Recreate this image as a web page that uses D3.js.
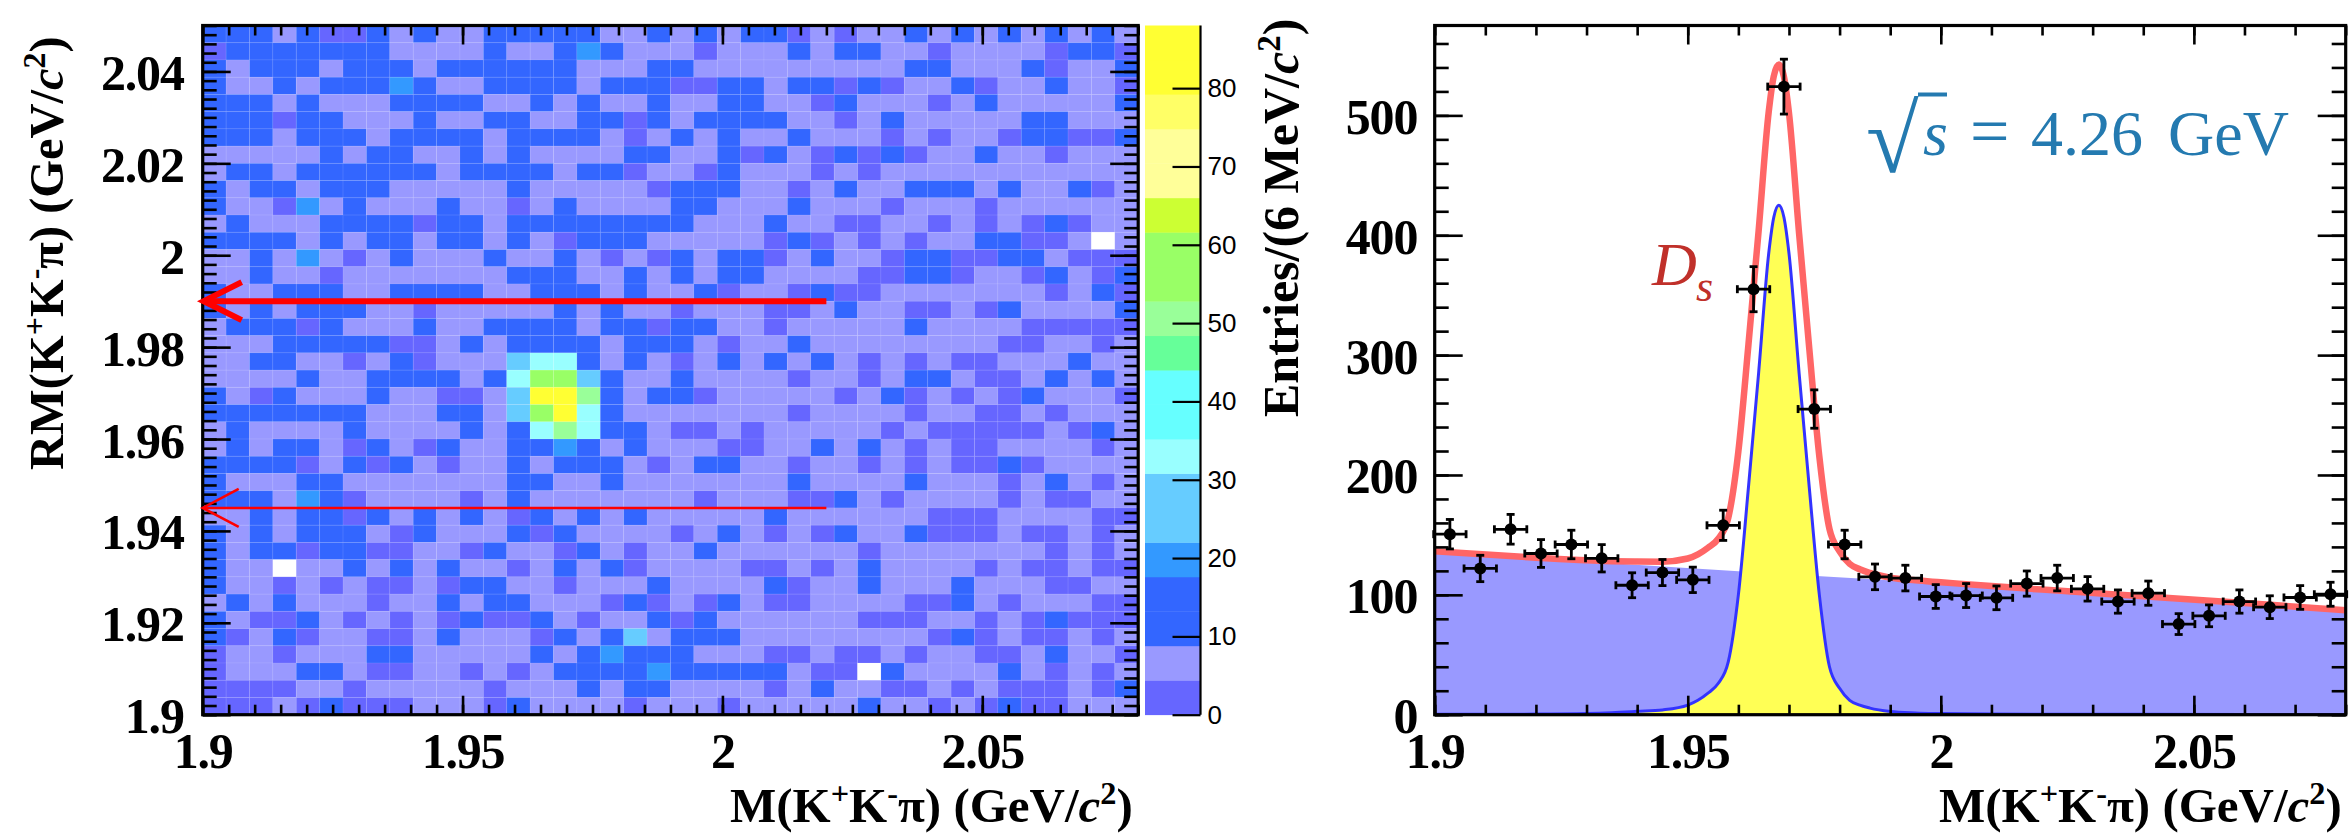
<!DOCTYPE html>
<html><head><meta charset="utf-8">
<script src="https://cdnjs.cloudflare.com/ajax/libs/d3/7.8.5/d3.min.js"></script>
<style>
html,body{margin:0;padding:0;background:#fff}
svg{display:block}
text{font-family:"Liberation Serif",serif;font-weight:bold;fill:#000}
.tl text{font-size:50px;letter-spacing:-1.2px}
</style></head><body>
<svg id="c" width="2351" height="835"></svg>
<script>
// ---------- left panel: 2D histogram counts (rows from top to bottom, 40 columns each) ----------
const heatCounts = [
[11,11,11,7,11,3,3,11,7,11,7,7,11,11,11,11,11,7,7,11,7,11,7,11,11,3,7,3,7,7,11,7,11,7,11,7,11,7,11,7],
[3,11,11,11,11,11,11,11,7,7,7,7,11,7,7,11,19,11,7,7,7,3,7,7,7,11,7,11,11,7,7,3,7,7,7,7,3,11,11,3],
[11,7,11,11,11,7,11,11,11,7,11,11,11,11,11,11,7,7,7,11,11,7,7,7,7,7,7,7,7,7,11,11,7,7,7,11,3,7,7,11],
[11,7,7,11,7,11,11,11,19,11,7,7,11,11,11,11,7,11,11,11,3,3,11,11,7,11,11,3,11,3,7,7,11,3,7,7,11,7,7,3],
[11,11,11,7,11,7,7,7,11,11,11,11,7,7,11,7,11,7,7,11,7,7,11,11,7,7,3,11,7,7,7,3,7,11,7,7,7,7,7,11],
[11,11,11,3,11,11,7,7,7,11,7,7,11,11,7,7,11,11,3,11,7,11,11,11,11,7,7,3,7,11,7,7,7,7,7,11,11,7,7,7],
[11,11,11,7,11,11,11,7,11,11,11,11,7,11,11,11,11,7,3,7,11,7,11,7,7,11,7,7,7,3,7,3,7,7,3,11,11,3,3,11],
[7,7,7,7,7,11,7,11,11,7,7,11,7,11,7,7,7,7,11,11,7,7,11,3,11,7,3,11,3,11,3,7,7,11,7,7,3,7,7,7],
[7,11,11,7,11,11,11,11,11,11,7,11,11,11,11,7,11,11,3,7,7,3,11,7,7,7,3,7,3,7,7,7,7,7,7,7,7,7,7,7],
[11,7,11,11,7,11,11,11,7,7,7,7,7,11,7,7,7,7,7,3,11,11,11,7,7,3,7,11,7,7,11,11,11,7,11,7,7,11,3,7],
[11,7,7,3,19,7,11,7,7,7,11,7,7,3,7,11,7,7,7,7,11,11,7,7,7,11,7,7,7,3,7,7,7,3,7,7,7,7,7,7],
[7,11,7,7,7,11,11,11,11,3,11,11,7,11,11,11,11,11,11,11,11,7,7,7,11,7,7,3,3,7,7,3,7,3,7,3,11,3,7,7],
[11,11,11,11,7,11,7,11,11,7,11,11,7,11,7,3,11,11,11,7,7,7,7,7,3,11,3,7,3,7,3,7,7,11,11,3,3,7,0,7],
[7,7,11,7,19,7,3,7,11,7,7,7,11,7,7,11,7,3,7,3,11,7,11,11,3,7,11,7,7,3,11,11,3,3,11,11,7,3,3,3],
[7,7,11,7,7,3,7,7,7,7,7,7,7,11,11,11,7,7,11,7,11,7,11,11,7,7,7,7,3,3,11,11,3,7,7,3,11,7,3,11],
[11,7,7,11,11,11,7,7,11,11,11,11,7,7,11,11,11,7,11,7,7,11,3,7,7,3,11,3,3,7,7,7,7,7,7,7,3,7,11,3],
[11,7,11,7,11,11,11,7,7,3,7,7,7,7,7,11,7,11,7,7,3,7,7,7,3,3,7,11,7,7,3,3,7,3,11,7,7,7,7,11],
[7,11,11,11,3,11,7,7,7,11,7,7,11,11,11,11,7,11,11,3,11,11,7,7,3,7,7,7,7,7,11,7,7,7,7,3,3,3,3,3],
[7,7,7,11,11,11,11,11,3,3,7,11,7,11,11,11,11,7,11,11,11,7,3,7,7,11,7,7,7,7,7,7,7,7,3,3,7,7,3,7],
[7,7,11,11,7,7,3,7,11,3,7,7,7,26,33,33,11,7,11,7,3,7,11,7,11,7,11,7,3,7,3,7,3,3,7,7,7,11,7,7],
[7,7,7,7,11,7,7,11,11,11,11,7,11,33,56,56,26,11,7,7,11,7,7,7,7,3,7,7,3,7,11,11,7,3,3,7,11,7,11,7],
[11,7,3,11,7,7,7,11,7,7,3,3,7,26,83,83,50,11,7,11,11,3,7,7,7,7,7,3,7,11,3,7,3,7,3,11,7,7,7,3],
[11,11,11,11,11,11,11,7,7,7,11,11,7,26,56,83,33,11,7,7,7,7,7,7,7,3,7,7,7,7,3,7,7,3,3,7,3,7,7,7],
[7,11,7,7,7,7,11,7,7,7,7,11,7,11,33,50,33,11,11,7,3,3,7,3,7,7,7,7,7,3,7,3,3,3,3,3,7,3,11,7],
[7,11,7,11,11,7,3,11,7,3,11,7,7,11,11,19,11,7,11,7,7,7,3,3,7,7,11,7,11,7,3,7,3,3,7,7,7,7,3,7],
[11,11,11,11,3,7,11,3,11,7,3,7,7,11,7,11,11,11,7,3,7,11,11,7,7,3,7,7,3,7,3,7,3,3,11,3,7,7,7,7],
[11,7,7,7,11,11,7,7,7,7,7,7,7,11,11,7,7,11,7,7,7,7,7,7,7,11,7,7,7,7,11,7,7,7,3,7,11,7,3,7],
[11,11,11,7,19,11,3,7,7,7,7,3,7,11,7,7,7,7,7,7,7,3,7,7,7,3,3,11,7,3,7,7,7,7,3,7,3,3,7,7],
[7,7,11,7,11,11,3,11,7,11,7,11,7,3,11,7,11,7,11,7,7,7,7,7,11,7,7,7,7,7,7,3,3,3,7,7,7,7,3,3],
[11,7,11,7,11,11,11,7,3,11,7,7,7,11,3,11,7,7,7,7,3,7,11,7,3,7,3,11,7,7,11,3,3,3,7,3,3,7,3,7],
[11,7,11,11,3,11,11,3,3,7,7,3,11,7,7,3,11,7,3,7,7,11,7,7,7,7,7,7,3,7,7,7,7,7,7,7,3,7,3,7],
[11,7,7,0,7,7,11,7,11,7,11,7,7,3,7,11,7,11,3,7,7,7,7,3,3,7,3,7,11,7,7,7,7,3,7,3,3,7,3,3],
[11,7,7,3,7,3,7,3,3,7,3,11,11,7,7,3,7,7,7,11,7,7,7,7,11,3,7,7,11,7,7,7,11,7,7,7,3,3,7,7],
[7,11,7,11,7,7,7,3,7,7,11,7,11,11,7,7,7,3,11,3,7,3,11,7,3,3,7,7,7,7,3,3,11,7,3,7,7,7,3,3],
[11,7,3,3,11,7,3,7,3,7,3,11,3,3,11,7,3,7,7,11,3,11,7,7,7,7,7,7,3,3,3,7,7,3,7,3,11,3,3,3],
[11,3,7,11,3,7,7,3,3,7,11,7,7,7,3,11,7,11,26,7,11,11,11,7,7,7,7,7,7,7,7,3,11,3,7,3,3,7,3,7],
[3,7,7,3,7,7,7,11,11,7,7,7,7,7,11,7,11,19,11,11,11,7,7,7,3,3,7,3,3,7,3,7,7,3,3,7,11,7,7,3],
[3,7,7,7,11,11,7,3,3,7,7,3,7,3,7,11,11,11,11,19,11,11,11,11,11,7,3,3,0,11,7,7,7,7,11,7,3,7,3,7],
[3,3,3,3,7,7,3,7,7,7,7,7,3,7,7,7,11,7,11,11,7,7,7,7,3,7,11,7,7,3,3,7,3,7,3,3,3,7,3,11],
[3,3,3,7,3,11,3,3,3,7,7,7,3,11,7,7,7,7,3,7,7,7,3,7,7,7,7,7,11,7,7,3,7,3,11,3,3,7,7,7]
];
const colorLevels = ["#6666ff","#9999ff","#3366ff","#3366ff","#3399ff","#66ccff","#66ccff","#99ffff","#66ffff","#66ffff",
  "#66ff99","#99ff99","#99ff66","#99ff66","#ccff33","#ffff99","#ffff99","#ffff66","#ffff33","#ffff33"];
const zMax = 88;
const zTicks = [0,10,20,30,40,50,60,70,80];
const heatXRange = [1.9,2.08];
const heatYRange = [1.9,2.05];
const redLineMasses = [1.99,1.945];
const redLineEnd = 2.02;
const heatYMajor = [1.9,1.92,1.94,1.96,1.98,2,2.02,2.04];
const heatYLabels = ["1.9","1.92","1.94","1.96","1.98","2","2.02","2.04"];
const massMajor = [1.9,1.95,2,2.05];
const massLabels = ["1.9","1.95","2","2.05"];

// ---------- right panel: mass spectrum ----------
const binCentres = [1.903,1.909,1.915,1.921,1.927,1.933,1.939,1.945,1.951,1.957,1.963,1.969,1.975,1.981,1.987,1.993,1.999,2.005,2.011,2.017,2.023,2.029,2.035,2.041,2.047,2.053,2.059,2.065,2.071,2.077];
const binEntries = [150.6,122,154.7,134.5,142,130.5,108,118.6,112.5,158,355,524,255,142,115,114,98.6,99.4,97.5,109.4,114,105,94.4,101.4,75.6,82.5,94.4,89.7,97.8,100.5];
const binErrors = [12.3,11,12.4,11.6,11.9,11.4,10.4,10.9,10.6,12.6,18.8,22.9,16,11.9,10.7,10.7,9.9,10,9.9,10.5,10.7,10.2,9.7,10.1,8.7,9.1,9.7,9.5,9.9,10];
const binHalfWidth = 0.0032;
const curveMass = [1.9,1.92,1.93,1.935,1.94,1.945,1.95,1.952,1.954,1.956,1.958,1.96,1.962,1.964,1.966,1.967,1.968,1.969,1.97,1.972,1.974,1.976,1.978,1.98,1.982,1.984,1.986,1.99,1.995,2,2.01,2.02,2.04,2.06,2.08];
const signalCurve = [.3,.5,1,1.7,2.8,4,8,12,18,26,44,100,190,285,385,415,425,415,385,285,190,100,40,22,12,8,5.5,2.7,1.5,1,.5,.4,.3,.2,.2];
const totalCurve = [136.3,131,128.8,128.1,127.8,127.7,130.3,133.8,139.3,146.7,164.2,219.7,309.2,403.6,503.1,532.8,542.5,532.3,502,401.5,305.9,215.4,154.9,136.3,125.8,121.3,118.3,114.4,112.1,110.5,107.3,104.4,98.8,93.2,87.2];
const bgMass = [1.9,1.96,2,2.05,2.08];
const bgCurve = [136,119.7,109.5,96,87];
const specYMajor = [0,100,200,300,400,500];
const specYMax = 575;
const specXRange = [1.9,2.08];

// ---------- layout ----------
const svg = d3.select("#c");
const L = {x0:202.7,x1:1138.2,y0:714.7,y1:25.5};
const R = {x0:1434.7,x1:2345.7,y0:714.7,y1:25.5};
const C = {x0:1145,x1:1200.5};

function ticksBetween(a,b,step){const n=Math.round((b-a)/step);return d3.range(n+1).map(i=>+(a+i*step).toFixed(5));}

function drawFrame(g,x,y,o){
  const fmt=(m,l)=>d=>{const i=m.findIndex(v=>Math.abs(v-d)<1e-6);return i<0?"":l[i];};
  const ax=(gen,sel,scale,minor,major,mlen,Mlen,labels)=>{
    const off=sel.append("g");
    off.call(gen(scale).tickValues(minor).tickSize(-mlen).tickFormat(""));
    off.select(".domain").remove();
    const on=sel.append("g").attr("class",labels?"tl":null);
    on.call(gen(scale).tickValues(major).tickSize(-Mlen).tickFormat(labels?fmt(major,labels):""));
    on.select(".domain").remove();
    sel.selectAll("line").attr("stroke","#000").attr("stroke-width",2.6);
    return on;
  };
  const gb=g.append("g").attr("transform",`translate(0,${y.range()[0]})`);
  const onb=ax(d3.axisBottom,gb,x,o.xMinor,o.xMajor,o.xMinLen,o.xMajLen,o.xLabels);
  onb.selectAll("text").attr("y",53).attr("dy",0).attr("text-anchor","middle");
  const gt=g.append("g").attr("transform",`translate(0,${y.range()[1]})`);
  ax(d3.axisTop,gt,x,o.xMinor,o.xMajor,o.xMinLen,o.xMajLen,null);
  const gl=g.append("g").attr("transform",`translate(${x.range()[0]},0)`);
  const onl=ax(d3.axisLeft,gl,y,o.yMinor,o.yMajor,o.yMinLen,o.yMajLen,o.yLabels);
  onl.selectAll("text").attr("x",-o.yLabelGap).attr("dy",18).attr("text-anchor","end");
  const gr=g.append("g").attr("transform",`translate(${x.range()[1]},0)`);
  ax(d3.axisRight,gr,y,o.yMinor,o.yMajor,o.yMinLen,o.yMajLen,null);
  g.append("rect").attr("x",x.range()[0]).attr("y",y.range()[1])
    .attr("width",x.range()[1]-x.range()[0]).attr("height",y.range()[0]-y.range()[1])
    .attr("fill","none").attr("stroke","#000").attr("stroke-width",3.2);
}

function massTitle(sel,prefix,fs,tr){
  const sup=fs*0.66, up=fs*0.37;
  const t=sel.append("text").attr("font-size",fs).attr("transform",tr);
  t.append("tspan").text(prefix+"(K");
  t.append("tspan").text("+").attr("font-size",sup).attr("dy",-up);
  t.append("tspan").text("K").attr("dy",up);
  t.append("tspan").text("-").attr("font-size",sup).attr("dy",-up);
  t.append("tspan").text("π").attr("dy",up);
  t.append("tspan").text(") (GeV/");
  t.append("tspan").text("c").attr("font-style","italic");
  t.append("tspan").text("2").attr("font-size",sup).attr("dy",-up);
  t.append("tspan").text(")").attr("dy",up);
  return t;
}

// ---------- left panel ----------
const gL = svg.append("g");
const xL = d3.scaleLinear().domain(heatXRange).range([L.x0,L.x1]);
const yL = d3.scaleLinear().domain(heatYRange).range([L.y0,L.y1]);
const zColor = d3.scaleQuantize().domain([0,zMax]).range(colorLevels);
const nX = heatCounts[0].length, nY = heatCounts.length;
const dX = (heatXRange[1]-heatXRange[0])/nX, dY=(heatYRange[1]-heatYRange[0])/nY;
const cells = heatCounts.flatMap((row,r)=>row.map((v,c)=>({v,x:heatXRange[0]+c*dX,y:heatYRange[1]-(r+1)*dY})));
gL.append("g").selectAll("rect").data(cells).join("rect")
  .attr("x",d=>xL(d.x)).attr("y",d=>yL(d.y+dY))
  .attr("width",xL(heatXRange[0]+dX)-xL(heatXRange[0])).attr("height",yL(heatYRange[0])-yL(heatYRange[0]+dY))
  .attr("fill",d=>d.v===0?"#fff":zColor(d.v))
  .attr("stroke","rgba(255,255,255,0.07)").attr("stroke-width",1);

drawFrame(gL,xL,yL,{xMinor:ticksBetween(1.9,2.08,0.005),xMajor:massMajor,xLabels:massLabels,xMinLen:10,xMajLen:19,
  yMinor:ticksBetween(1.9,2.05,0.002),yMajor:heatYMajor,yLabels:heatYLabels,yMinLen:14,yMajLen:28,yLabelGap:19});

// red markers
const redW=[6,2.6], armX=[38,36], armY=[19,19], tip=[-1,0];
redLineMasses.forEach((m,i)=>{
  const yy=yL(m), tx=xL(1.9)-tip[i];
  const red=gL.append("g").attr("fill","none").attr("stroke","#ff0000").attr("stroke-width",redW[i]);
  red.append("line").attr("x1",tx).attr("x2",xL(redLineEnd)).attr("y1",yy).attr("y2",yy);
  red.append("path").attr("d",d3.line()([[tx+armX[i],yy-armY[i]],[tx,yy],[tx+armX[i],yy+armY[i]]]));
});

// color bar
const yC = d3.scaleLinear().domain([0,zMax]).range([L.y0,L.y1]);
const gC = svg.append("g");
const step = zMax/colorLevels.length;
gC.selectAll("rect").data(colorLevels).join("rect")
  .attr("x",C.x0).attr("width",C.x1-C.x0)
  .attr("y",(d,i)=>yC((i+1)*step)).attr("height",yC(0)-yC(step)+0.4).attr("fill",d=>d);
const axC=gC.append("g").attr("transform",`translate(${C.x1},0)`)
  .call(d3.axisRight(yC).tickValues(zTicks).tickSize(-28).tickPadding(7).tickFormat(d3.format("d")));
axC.select(".domain").attr("stroke","#000").attr("stroke-width",2.2).attr("d",`M0,${L.y0}V${L.y1}`);
axC.selectAll("line").attr("stroke","#000").attr("stroke-width",2.2);
axC.selectAll("text").style("font-family","'Liberation Sans',sans-serif").style("font-weight","normal").style("font-size","26px").attr("x",7);

// axis titles left
massTitle(svg,"M",49,"translate(730,822)");
massTitle(svg,"RM",48.5,"translate(63,470) rotate(-90)");

// ---------- right panel ----------
const gR = svg.append("g");
const xR = d3.scaleLinear().domain(specXRange).range([R.x0,R.x1]);
const yR = d3.scaleLinear().domain([0,specYMax]).range([R.y0,R.y1]);
const smooth = d3.curveMonotoneX;
const bgPts = bgMass.map((m,i)=>[m,bgCurve[i]]);
const sigPts = curveMass.map((m,i)=>[m,signalCurve[i]]);
const totPts = curveMass.map((m,i)=>[m,totalCurve[i]]);
gR.append("path").datum(bgPts).attr("fill","#9999ff")
  .attr("d",d3.area().x(d=>xR(d[0])).y0(yR(0)).y1(d=>yR(d[1])).curve(smooth));
gR.append("path").datum(sigPts).attr("fill","#ffff55")
  .attr("d",d3.area().x(d=>xR(d[0])).y0(yR(0)).y1(d=>yR(d[1])).curve(smooth));
gR.append("path").datum(sigPts).attr("fill","none").attr("stroke","#3333ff").attr("stroke-width",3)
  .attr("d",d3.line().x(d=>xR(d[0])).y(d=>yR(d[1])).curve(smooth));
gR.append("path").datum(totPts).attr("fill","none").attr("stroke","#ff6666").attr("stroke-width",6.5)
  .attr("d",d3.line().x(d=>xR(d[0])).y(d=>yR(d[1])).curve(smooth));
const pts = gR.append("g").selectAll("g").data(binCentres.map((m,i)=>({m,v:binEntries[i],e:binErrors[i]}))).join("g");
const ptLine=(s,x1,x2,y1,y2)=>s.append("line").attr("x1",x1).attr("x2",x2).attr("y1",y1).attr("y2",y2).attr("stroke","#000").attr("stroke-width",2.8);
ptLine(pts,d=>xR(d.m-binHalfWidth),d=>xR(d.m+binHalfWidth),d=>yR(d.v),d=>yR(d.v));
ptLine(pts,d=>xR(d.m),d=>xR(d.m),d=>yR(d.v-d.e),d=>yR(d.v+d.e));
ptLine(pts,d=>xR(d.m-binHalfWidth),d=>xR(d.m-binHalfWidth),d=>yR(d.v)-4,d=>yR(d.v)+4);
ptLine(pts,d=>xR(d.m+binHalfWidth),d=>xR(d.m+binHalfWidth),d=>yR(d.v)-4,d=>yR(d.v)+4);
ptLine(pts,d=>xR(d.m)-4,d=>xR(d.m)+4,d=>yR(d.v-d.e),d=>yR(d.v-d.e));
ptLine(pts,d=>xR(d.m)-4,d=>xR(d.m)+4,d=>yR(d.v+d.e),d=>yR(d.v+d.e));
pts.append("circle").attr("cx",d=>xR(d.m)).attr("cy",d=>yR(d.v)).attr("r",6).attr("fill","#000");

drawFrame(gR,xR,yR,{xMinor:ticksBetween(1.9,2.08,0.01),xMajor:massMajor,xLabels:massLabels,xMinLen:10,xMajLen:19,
  yMinor:ticksBetween(0,560,20),yMajor:specYMajor,yLabels:specYMajor.map(String),yMinLen:14,yMajLen:28,yLabelGap:17.5});

massTitle(svg,"M",49,"translate(1939,822)");
const ty=svg.append("text").attr("font-size",50).attr("transform","translate(1298,417) rotate(-90)");
ty.append("tspan").text("Entries/(6 MeV/");
ty.append("tspan").text("c").attr("font-style","italic");
ty.append("tspan").text("2").attr("font-size",33).attr("dy",-18);
ty.append("tspan").text(")").attr("dy",18);

// annotations
const ds=svg.append("text").attr("x",1652).attr("y",285).style("fill","#c0302a")
  .style("font-weight","normal").style("font-style","italic").attr("font-size",62);
ds.append("tspan").text("D");
ds.append("tspan").text("s").attr("x",1696).attr("y",301).attr("font-size",44);

const blue="#247ab0";
const fsy=64, base=155;
svg.append("text").text("√").attr("transform","translate(1866,172) scale(1,1)")
  .style("font-weight","normal").style("fill",blue).attr("font-size",96);
svg.append("line").attr("x1",1918).attr("x2",1947).attr("y1",94.5).attr("y2",94.5).attr("stroke",blue).attr("stroke-width",4);
const eq=svg.append("text").attr("y",base).attr("font-size",fsy).style("font-weight","normal").style("fill",blue);
eq.append("tspan").text("s").attr("x",1923).style("font-style","italic");
eq.append("tspan").text("=").attr("x",1970).attr("font-size",70);
eq.append("tspan").text("4.26").attr("x",2031);
eq.append("tspan").text("GeV").attr("x",2168);
</script></body></html>
